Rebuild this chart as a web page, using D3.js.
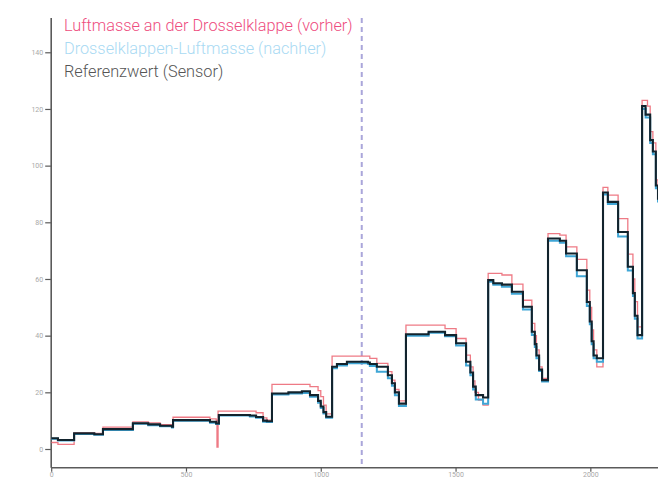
<!DOCTYPE html>
<html>
<head>
<meta charset="utf-8">
<script src="https://cdn.jsdelivr.net/npm/d3@7"></script>
<style>
  html, body { margin: 0; padding: 0; background: #fff; }
  svg { display: block; }
  .axis text { font-family: Roboto, sans-serif; font-size: 7px; fill: #a8a8a8; }
  .axis path, .axis line { stroke: #5a5a5a; }
  .legend text { font-family: Roboto, sans-serif; font-weight: 300; }
</style>
</head>
<body>
<svg id="chart" width="658" height="478"></svg>
<script>
// Air mass at the throttle before and after the correction, with the sensor reference.
// Each series is a list of [sample index, air mass] breakpoints drawn as steps.
const massBefore = [
  [0,2.3],[25,1.6],[85,5.7],[160,5.5],[192,7.7],[303,9.6],[360,9.2],[404,8.6],[448,8.4],
  [452,11.2],[589,10.6],[612,10.2],[615,0.7],[619,13.4],[737,13.4],[760,12.8],[786,11.0],[800,10.2],
  [819,22.8],[930,22.8],[960,22.0],[990,20.6],[1000,18.5],[1010,15.5],[1020,12.4],
  [1042,32.8],[1175,32.8],[1182,32.0],[1208,30.2],[1249,27.3],[1264,24.3],[1275,21.0],[1290,17.0],
  [1316,43.7],[1461,42.5],[1502,39.0],[1539,33.1],[1555,29.0],[1565,24.0],[1572,20.0],[1585,17.3],[1602,15.5],
  [1621,62.0],[1672,61.4],[1709,58.2],[1750,52.5],[1783,44.3],[1794,40.0],[1800,35.0],[1810,29.0],[1821,24.9],
  [1843,76.0],[1887,75.5],[1910,71.3],[1950,66.9],[1987,56.1],[1998,50.0],[2005,42.0],[2012,35.0],[2024,29.0],
  [2047,92.3],[2065,89.6],[2103,81.3],[2139,68.8],[2158,60.0],[2165,52.0],[2175,43.1],
  [2192,123.0],[2212,121.0],[2222,112.0],[2232,108.0],[2243,95.0],[2251,89.0]
];

const massAfter = [
  [0,3.6],[25,3.0],[85,5.3],[160,5.0],[192,6.7],[303,8.9],[360,8.4],[404,8.0],[448,7.6],
  [452,10.0],[589,9.3],[612,8.8],[622,11.8],[737,11.5],[760,11.0],[786,9.6],[800,9.5],
  [819,19.2],[880,19.6],[930,19.8],[960,18.4],[990,16.3],[1000,14.5],[1010,12.5],[1020,11.0],
  [1042,28.5],[1060,29.5],[1097,30.3],[1175,30.0],[1182,29.3],[1208,27.3],[1249,25.0],[1264,22.3],[1275,19.0],[1290,15.2],
  [1316,40.0],[1400,41.0],[1461,39.8],[1502,36.5],[1539,29.5],[1555,26.0],[1565,21.0],[1575,17.5],[1602,16.0],
  [1621,59.0],[1640,58.0],[1672,57.3],[1709,54.8],[1750,49.2],[1783,40.2],[1794,36.0],[1800,32.0],[1810,27.5],[1821,23.8],
  [1843,73.5],[1887,72.8],[1910,68.0],[1950,61.0],[1987,50.5],[1998,44.0],[2005,37.0],[2012,32.0],[2024,30.8],
  [2047,89.8],[2065,86.5],[2103,75.0],[2139,63.0],[2158,54.0],[2165,46.0],[2175,39.0],
  [2192,120.0],[2205,117.0],[2222,108.0],[2232,104.0],[2243,92.0],[2251,87.0]
];

const massSensor = [
  [0,3.8],[25,3.2],[85,5.5],[160,5.2],[192,7.0],[303,9.1],[360,8.7],[404,8.2],[448,7.9],
  [452,10.2],[589,9.6],[612,9.0],[622,12.0],[737,11.8],[760,11.3],[786,10.0],[800,9.8],
  [819,19.6],[880,20.0],[930,20.4],[960,19.0],[990,17.0],[1000,15.0],[1010,13.0],[1020,11.4],
  [1042,29.0],[1060,30.0],[1097,30.8],[1175,30.5],[1182,30.0],[1208,29.0],[1249,26.0],[1264,23.2],[1275,20.0],[1290,16.0],
  [1316,40.5],[1400,41.4],[1461,40.2],[1502,37.3],[1539,30.8],[1555,27.0],[1565,22.0],[1575,19.0],[1602,18.2],
  [1621,59.6],[1640,58.5],[1672,58.0],[1709,55.5],[1750,50.2],[1783,41.4],[1794,37.0],[1800,33.0],[1810,28.0],[1821,24.3],
  [1843,74.3],[1887,73.5],[1910,69.0],[1950,63.1],[1987,51.9],[1998,45.0],[2005,38.0],[2012,33.0],[2024,32.0],
  [2047,90.5],[2065,87.2],[2103,76.6],[2139,64.3],[2158,55.0],[2165,47.0],[2175,40.2],
  [2192,121.0],[2205,118.0],[2222,109.0],[2232,105.0],[2243,93.0],[2251,88.0]
];

// Sample where the correction was switched on
const switchSample = 1152;

const xTicks = [0, 500, 1000, 1500, 2000];
const yTicks = [0, 20, 40, 60, 80, 100, 120, 140];

const legendLabels = [
  "Luftmasse an der Drosselklappe (vorher)",
  "Drosselklappen-Luftmasse (nachher)",
  "Referenzwert (Sensor)"
];
const legendColors = ["#ee4d80", "#a9daf3", "#555555"];

const svg = d3.select("#chart");
const plotLeft = 51.2, plotRight = 658, plotTop = 18, plotBottom = 467.7;

const x = d3.scaleLinear().domain([0, 2251]).range([plotLeft, plotRight]);
const y = d3.scaleLinear().domain([-6.6, 152.1]).range([plotBottom, plotTop]);

svg.append("defs").append("clipPath").attr("id", "plot")
  .append("rect").attr("x", plotLeft).attr("y", plotTop)
  .attr("width", plotRight - plotLeft).attr("height", plotBottom - plotTop);

// Axes
svg.append("g").attr("class", "axis")
  .attr("transform", `translate(${plotLeft},0)`)
  .call(d3.axisLeft(y).tickValues(yTicks).tickFormat(d3.format("d")).tickSize(6).tickPadding(2))
  .call(g => g.select(".domain").attr("stroke-width", 1.6).attr("d", `M0,${plotTop}V${plotBottom}`))
  .call(g => g.selectAll(".tick line").attr("stroke-width", 1.2));

svg.append("g").attr("class", "axis")
  .attr("transform", `translate(0,${plotBottom})`)
  .call(d3.axisBottom(x).tickValues(xTicks).tickFormat(d3.format("d")).tickSize(4).tickPadding(1))
  .call(g => g.select(".domain").attr("stroke-width", 1.6).attr("d", `M${plotLeft},0H${plotRight}`))
  .call(g => g.selectAll(".tick line").attr("stroke-width", 1.2))
  .call(g => g.selectAll(".tick text").attr("dy", "0.62em"));

// Switch-over marker
svg.append("line")
  .attr("x1", x(switchSample)).attr("x2", x(switchSample))
  .attr("y1", plotTop).attr("y2", plotBottom)
  .attr("stroke", "#aaa6da").attr("stroke-width", 2)
  .attr("stroke-dasharray", "5,4");

// Series
const line = d3.line()
  .x(d => x(d[0])).y(d => y(d[1]))
  .curve(d3.curveStepAfter);

const plot = svg.append("g").attr("clip-path", "url(#plot)");

plot.append("path").datum(massBefore)
  .attr("fill", "none").attr("stroke", "#ec6b78").attr("stroke-width", 1.3)
  .attr("stroke-opacity", 0.9).attr("d", line);

plot.append("path").datum(massAfter)
  .attr("fill", "none").attr("stroke", "#3fa6d6").attr("stroke-width", 2)
  .attr("d", line);

plot.append("path").datum(massSensor)
  .attr("fill", "none").attr("stroke", "#12232d").attr("stroke-width", 2.1)
  .attr("d", line);

// Legend
const legend = svg.append("g").attr("class", "legend");
legend.selectAll("text").data(legendLabels).join("text")
  .attr("x", 64)
  .attr("y", (d, i) => 31 + i * 22.8)
  .attr("font-size", 16.3)
  .attr("fill", (d, i) => legendColors[i])
  .text(d => d);
</script>
</body>
</html>
